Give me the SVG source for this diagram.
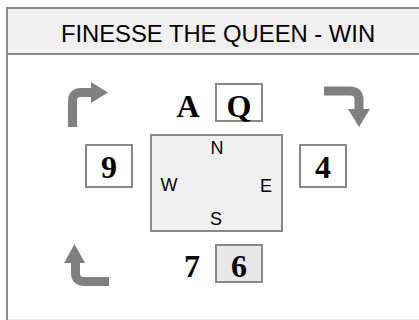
<svg xmlns="http://www.w3.org/2000/svg" width="419" height="320" viewBox="0 0 419 320">
<style>
.frame{fill:#ffffff;stroke:#888888;stroke-width:2}
.hdr{fill:#f0f0f0;stroke:#888888;stroke-width:2}
.card{fill:#ffffff;stroke:#888888;stroke-width:2}
.cardg{fill:#e8e8e8;stroke:#888888;stroke-width:2}
.table{fill:#f0f0f0;stroke:#888888;stroke-width:2}
.big{font-family:"Liberation Serif",serif;font-weight:bold;font-size:32px;fill:#000;text-anchor:middle}
.dir{font-family:"Liberation Sans",Arial,sans-serif;font-size:18px;fill:#000;text-anchor:middle}
.title{font-family:"Liberation Sans",Arial,sans-serif;font-size:23.8px;fill:#000;text-anchor:middle}
.arr{fill:none;stroke:#808080;stroke-width:9}
.head{fill:#808080}
</style>
<rect class="frame" x="7" y="8" width="420" height="312.8"/>
<g id="header">
<rect class="hdr" x="7" y="8" width="420" height="46"/>
<text class="title" x="218" y="42">FINESSE THE QUEEN - WIN</text>
</g>
<g id="north">
<text class="big" x="188" y="117">A</text>
<rect class="card" x="216" y="84" width="46" height="37"/>
<text class="big" x="239" y="117">Q</text>
</g>
<g id="west">
<rect class="card" x="86" y="145" width="46" height="42"/>
<text class="big" x="109" y="178">9</text>
</g>
<g id="east">
<rect class="card" x="300" y="145" width="46" height="42"/>
<text class="big" x="323" y="178">4</text>
</g>
<g id="south">
<text class="big" x="192" y="277">7</text>
<rect class="cardg" x="216" y="245" width="46" height="37"/>
<text class="big" x="239" y="277">6</text>
</g>
<g id="table">
<rect class="table" x="151" y="135" width="131" height="96"/>
<text class="dir" x="217" y="154">N</text>
<text class="dir" x="169" y="191">W</text>
<text class="dir" x="266" y="192">E</text>
<text class="dir" x="216" y="225">S</text>
</g>
<g id="connectors">
<path class="arr" d="M72.5,127 L72.5,101 Q72.5,92.5 81,92.5 L93,92.5"/>
<polygon class="head" points="91,82 108,92.5 91,103"/>
<path class="arr" d="M324,91 L350,91 Q359,91 359,100 L359,111"/>
<polygon class="head" points="348,109 370,109 359,127"/>
<path class="arr" d="M75.5,261 L75.5,273 Q75.5,281.5 84,281.5 L109,281.5"/>
<polygon class="head" points="64,263 74.5,244 85,263"/>
</g>
</svg>
